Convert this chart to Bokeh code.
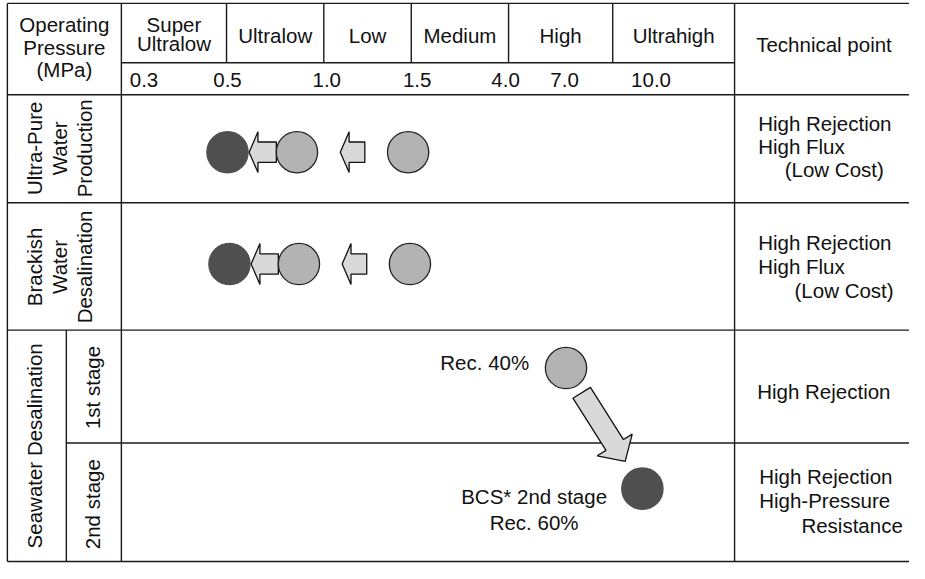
import numpy as np
from bokeh.plotting import figure
from bokeh.models import Range1d
from bokeh.embed import file_html
from bokeh.resources import INLINE
from bokeh.core.properties import value

# ---------------- data ----------------
pressure_classes = [["Super", "Ultralow"], ["Ultralow"], ["Low"], ["Medium"], ["High"], ["Ultrahigh"]]
pressure_ticks = [0.3, 0.5, 1.0, 1.5, 4.0, 7.0, 10.0]
tick_labels = ["0.3", "0.5", "1.0", "1.5", "4.0", "7.0", "10.0"]
header_label = ["Operating", "Pressure", "(MPa)"]
tech_header = "Technical point"

upw_label = ["Ultra-Pure", "Water", "Production"]
bwd_label = ["Brackish", "Water", "Desalination"]
sw_label = "Seawater Desalination"
sw_stages = ["1st stage", "2nd stage"]

# operating pressure (MPa) of membranes; kind: "new" = dark, "old" = light
upw_pressure = [0.5, 0.85, 1.45]
upw_kind = ["new", "old", "old"]
bwd_pressure = [0.51, 0.86, 1.46]
bwd_kind = ["new", "old", "old"]
sw1_pressure = [7.05]
sw1_kind = ["old"]
sw2_pressure = [9.7]
sw2_kind = ["new"]
sw1_note = "Rec. 40%"
sw2_note = ["BCS* 2nd stage", "Rec. 60%"]

tech_upw = ["High Rejection", "High Flux", "(Low Cost)"]
tech_bwd = ["High Rejection", "High Flux", "(Low Cost)"]
tech_sw1 = ["High Rejection"]
tech_sw2 = ["High Rejection", "High-Pressure", "Resistance"]

# ---------------- layout (diagram units, y downward) ----------------
XL, XSUB, XLAB, XTECH, XR = 7, 67, 123, 747, 930
class_edges = [123, 230, 329, 418, 517, 623, 747]
tick_pos = [146, 231, 332, 424, 514, 574, 662]
YT, YMID, YH, Y1, Y2, Y3, YB = 3, 64, 97, 208, 339, 455, 577
row_circle_y = {"upw": 156, "bwd": 271, "sw1": 378, "sw2": 502}
R = 21

FONT = value("Liberation Sans")
FS = value("20.5px")
CAPOFF = 0.0
LINE = "#1a1a1a"
DARK = "#4f4f4f"
LIGHT = "#b3b3b3"
ARROW = "#d9d9d9"

p = figure(width=909, height=563, output_backend="svg", toolbar_location=None,
           x_range=Range1d(0, 925), y_range=Range1d(-579, 0),
           x_axis_location=None, y_axis_location=None, min_border=0)
p.grid.visible = False
p.outline_line_color = None
p.background_fill_color = "white"
p.border_fill_color = "white"


def txt(xs, ycaps, texts, align="center"):
    p.text(x=list(xs), y=[-(y + CAPOFF) for y in ycaps], text=list(texts),
           text_font=FONT, text_font_size=FS, text_align=align,
           text_baseline="alphabetic", text_color="#111111")


def vtxt(xcaps, ycs, texts):
    p.text(x=[x + CAPOFF for x in xcaps], y=[-y for y in ycs], text=list(texts),
           angle=np.pi / 2, text_font=FONT, text_font_size=FS, text_align="center",
           text_baseline="alphabetic", text_color="#111111")


# ---------------- table lines ----------------
hx0 = [XL, XLAB, XL, XL, XL, XSUB, XL]
hx1 = [XR, XTECH, XR, XR, XR, XR, XR]
hy = [YT, YMID, YH, Y1, Y2, Y3, YB]
p.segment(x0=hx0, y0=[-y for y in hy], x1=hx1, y1=[-y for y in hy],
          line_color=LINE, line_width=1.4)
vx = [XL, XLAB, XTECH, XSUB] + class_edges[1:-1]
vy0 = [YT, YT, YT, Y2] + [YT] * (len(class_edges) - 2)
vy1 = [YB, YB, YB, YB] + [YMID] * (len(class_edges) - 2)
p.segment(x0=vx, y0=[-y for y in vy0], x1=vx, y1=[-y for y in vy1],
          line_color=LINE, line_width=1.4)

# ---------------- header texts ----------------
txt([65] * 3, [25, 48.5, 71], header_label)
centers = [(a + b) / 2 for a, b in zip(class_edges[:-1], class_edges[1:])]
for c, lab in zip(centers, pressure_classes):
    if len(lab) == 2:
        txt([c, c], [25, 44], lab)
    else:
        txt([c], [36], lab)
txt(tick_pos, [81.5] * len(tick_pos), tick_labels)
txt([838], [45], [tech_header])

# ---------------- row labels ----------------
vtxt([35, 60, 85], [152] * 3, upw_label)
vtxt([35, 60, 85], [274] * 3, bwd_label)
vtxt([35], [458], [sw_label])
vtxt([94, 94], [398, 518], sw_stages)

# ---------------- technical points ----------------
txt([771, 771], [126, 150], tech_upw[:2], align="left")
txt([798], [174], tech_upw[2:], align="left")
txt([771, 771], [249, 273.5], tech_bwd[:2], align="left")
txt([808], [298], tech_bwd[2:], align="left")
txt([770], [402], tech_sw1, align="left")
txt([772, 772], [489.5, 514.5], tech_sw2[:2], align="left")
txt([815], [539.5], tech_sw2[2:], align="left")


# ---------------- arrows ----------------
def arrow_poly(x0, y0, x1, y1, shw=10.5, hhw=21, hl=9):
    a = np.array([x0, y0], float)
    b = np.array([x1, y1], float)
    u = (b - a) / np.linalg.norm(b - a)
    n = np.array([-u[1], u[0]])
    base = b - u * hl
    pts = [a + n * shw, base + n * shw, base + n * hhw, b,
           base - n * hhw, base - n * shw, a - n * shw]
    return [q[0] for q in pts], [-q[1] for q in pts]


def px(pr):
    return np.interp(pr, pressure_ticks, tick_pos)


axs, ays = [], []
for pres, key in ((upw_pressure, "upw"), (bwd_pressure, "bwd")):
    xs = px(pres)
    yc = row_circle_y[key]
    xa, ya = arrow_poly(xs[1] - R, yc, xs[0] + R + 1, yc)
    axs.append(xa); ays.append(ya)
    gap_c = ((xs[1] + R) + (xs[2] - R)) / 2
    xa, ya = arrow_poly(gap_c + 12.5, yc, gap_c - 12.5, yc)
    axs.append(xa); ays.append(ya)

c1 = np.array([px(sw1_pressure)[0], row_circle_y["sw1"]])
c2 = np.array([px(sw2_pressure)[0], row_circle_y["sw2"]])
u = (c2 - c1) / np.linalg.norm(c2 - c1)
t0 = c1 + u * 30
t1 = c2 - u * 33
xa, ya = arrow_poly(t0[0], t0[1], t1[0], t1[1], shw=10.5, hhw=21, hl=20)
axs.append(xa); ays.append(ya)

p.patches(xs=axs, ys=ays, fill_color=ARROW, line_color="#111111", line_width=1.3)

# ---------------- circles ----------------
cx, cy, cf, cl = [], [], [], []
for pres, kinds, key in ((upw_pressure, upw_kind, "upw"), (bwd_pressure, bwd_kind, "bwd"),
                         (sw1_pressure, sw1_kind, "sw1"), (sw2_pressure, sw2_kind, "sw2")):
    for pr, k in zip(pres, kinds):
        cx.append(float(px(pr)))
        cy.append(-row_circle_y[key])
        cf.append(DARK if k == "new" else LIGHT)
        cl.append(DARK if k == "new" else "#222222")
p.circle(x=cx, y=cy, radius=R, fill_color=cf, line_color=cl, line_width=1.3)

# ---------------- seawater notes ----------------
txt([538], [372.5], [sw1_note], align="right")
txt([543, 543], [510, 536.5], sw2_note)

open("out.html", "w").write(file_html(p, INLINE))
